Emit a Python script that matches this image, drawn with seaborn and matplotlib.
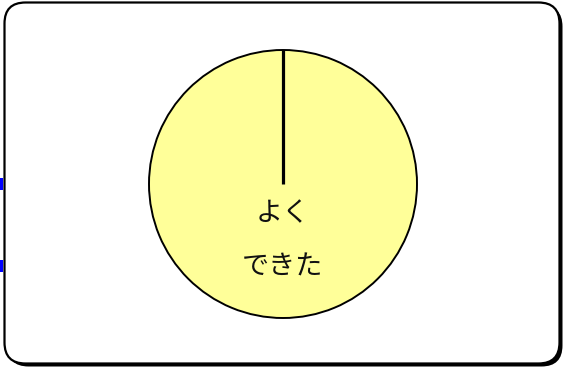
import numpy as np
import matplotlib.pyplot as plt
import seaborn as sns
from matplotlib.patches import FancyBboxPatch, Rectangle

# pie data: one category holds everything
labels = ["よく\nできた"]
values = [100]
colors = ["#FFFF99"]

sns.set_theme(style="white")
plt.rcParams['font.family'] = ['Noto Sans CJK JP', 'DejaVu Sans']

W, H = 565, 369
fig = plt.figure(figsize=(W / 100, H / 100), dpi=100)

# background frame drawn in pixel units
bg = fig.add_axes([0, 0, 1, 1])
bg.set_xlim(0, W)
bg.set_ylim(H, 0)
bg.axis('off')
bg.add_patch(FancyBboxPatch((7.5, 5.5), 555, 361, boxstyle="round,pad=0,rounding_size=21",
                            facecolor='black', edgecolor='black', linewidth=0))
bg.add_patch(FancyBboxPatch((4.5, 2.5), 555, 361, boxstyle="round,pad=0,rounding_size=21",
                            facecolor='white', edgecolor='black', linewidth=1.6))
# clipped legend markers at the left edge
bg.add_patch(Rectangle((0, 178), 2.5, 12, facecolor='#0000FF', edgecolor='none'))
bg.add_patch(Rectangle((0, 260), 2.5, 12, facecolor='#0000FF', edgecolor='none'))

# pie axes: centre at (283, 184), radius 134 px
lim = 1.03
size = 134 * lim
ax = fig.add_axes([(283 - size) / W, (H - 184 - size) / H, 2 * size / W, 2 * size / H])
wedges, texts = ax.pie(values, labels=labels, colors=colors, startangle=90,
                       counterclock=False, labeldistance=0.42,
                       wedgeprops={'edgecolor': 'black', 'linewidth': 1.4},
                       textprops={'fontsize': 19.5, 'linespacing': 2.25, 'ha': 'center',
                                  'va': 'center', 'color': '#111111'})
# boundary radial line of the single wedge
frac = np.cumsum(values) / np.sum(values)
for f in np.concatenate([[0], frac[:-1]]):
    ang = np.deg2rad(90 - 360 * f)
    ax.plot([0, np.cos(ang)], [0, np.sin(ang)], color='black', linewidth=2.3, solid_capstyle='butt')
ax.set_xlim(-lim, lim)
ax.set_ylim(-lim, lim)
ax.set_aspect('equal')
ax.axis('off')

fig.savefig("out.png", dpi=100)
